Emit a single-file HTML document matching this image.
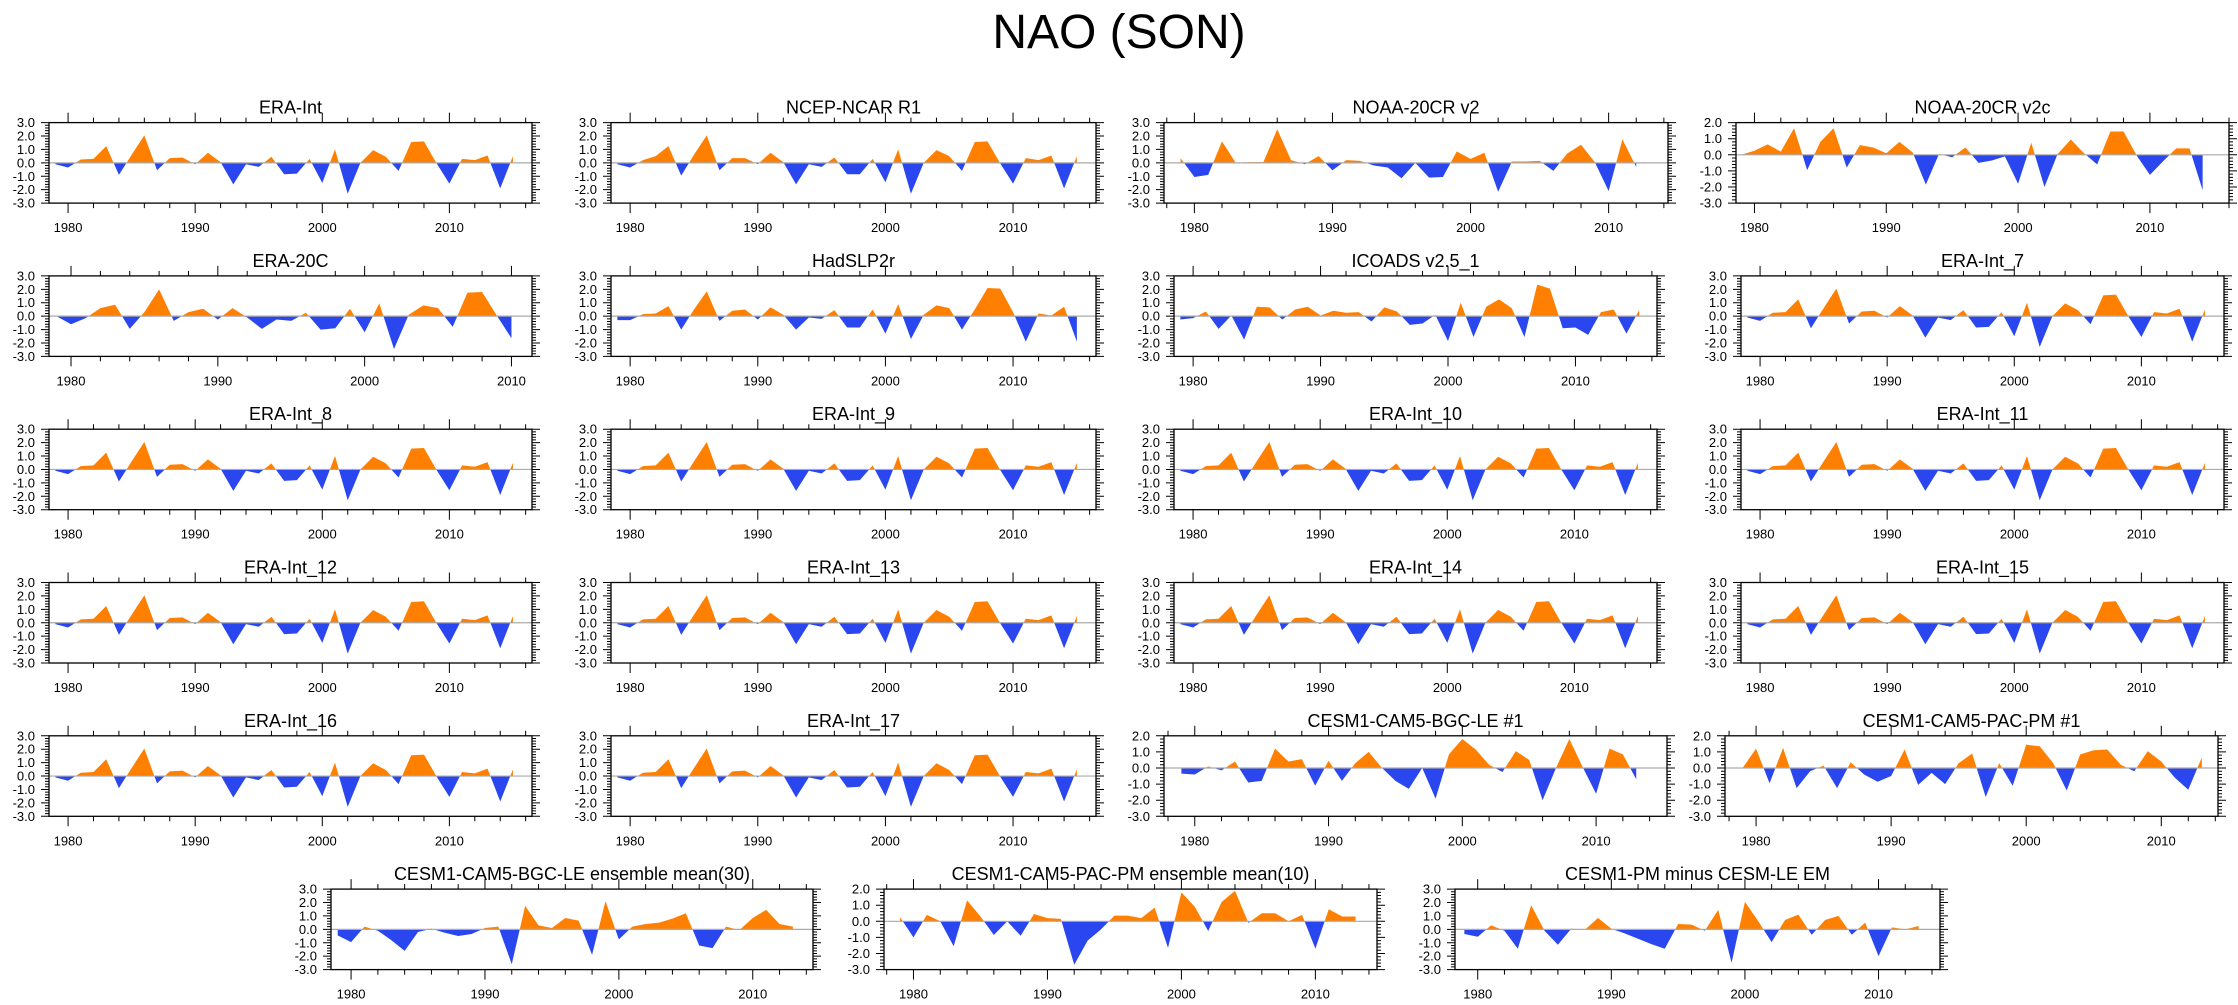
<!DOCTYPE html>
<html><head><meta charset="utf-8"><title>NAO (SON)</title>
<style>
html,body{margin:0;padding:0;background:#fff;}
svg{display:block;font-family:"Liberation Sans",sans-serif;}
</style></head>
<body>
<svg id="chart" xmlns="http://www.w3.org/2000/svg" width="2238" height="1005" viewBox="0 0 2238 1005">
<rect x="0" y="0" width="2238" height="1005" fill="#fff"/>
<text x="1119" y="48" text-anchor="middle" font-size="48" fill="#000">NAO (SON)</text>
</svg>
<script>
// ---- data (values per year, first year given separately) ----
const eraInt = [-0.1,-0.35,0.25,0.3,1.25,-0.9,0.6,2.05,-0.55,0.35,0.4,-0.1,0.75,0.05,-1.6,-0.1,-0.3,0.45,-0.85,-0.8,0.3,-1.5,1.0,-2.3,0.0,0.95,0.45,-0.6,1.55,1.6,-0.05,-1.55,0.3,0.2,0.55,-1.9,0.5];
const ncep = [-0.1,-0.35,0.2,0.5,1.25,-0.95,0.6,2.05,-0.55,0.35,0.35,-0.1,0.75,0.05,-1.6,-0.1,-0.3,0.4,-0.85,-0.85,0.3,-1.45,1.0,-2.3,0.0,0.95,0.5,-0.6,1.55,1.6,-0.05,-1.55,0.35,0.2,0.55,-1.9,0.5];
const noaaV2 = [0.35,-1.05,-0.9,1.6,0.0,0.05,0.05,2.5,0.2,-0.1,0.5,-0.55,0.2,0.15,-0.2,-0.35,-1.15,0.0,-1.1,-1.05,0.85,0.3,0.75,-2.15,0.1,0.1,0.15,-0.6,0.7,1.35,0.05,-2.1,1.75,-0.3];
const noaaV2c = [0.0,0.25,0.65,0.2,1.65,-0.95,0.8,1.65,-0.8,0.6,0.45,0.1,0.8,0.15,-1.85,0.05,-0.15,0.45,-0.5,-0.35,-0.1,-1.8,0.75,-2.0,0.05,0.95,0.1,-0.6,1.45,1.45,-0.05,-1.25,-0.4,0.4,0.4,-2.2];
const era20c = [0.0,-0.6,-0.15,0.6,0.85,-0.95,0.3,2.0,-0.35,0.3,0.55,-0.25,0.6,-0.1,-0.95,-0.25,-0.35,0.25,-1.0,-0.9,0.55,-1.2,0.95,-2.45,0.1,0.8,0.6,-0.8,1.75,1.8,0.05,-1.65];
const hadslp2r = [-0.3,-0.3,0.15,0.2,0.75,-1.0,0.5,1.85,-0.35,0.4,0.5,-0.25,0.65,0.1,-1.0,-0.1,-0.2,0.45,-0.85,-0.85,0.5,-1.3,0.9,-1.7,0.1,0.8,0.6,-1.0,0.5,2.1,2.05,0.3,-1.9,0.2,0.05,0.7,-1.9];
const icoads = [-0.25,-0.15,0.35,-0.95,0.05,-1.75,0.7,0.65,-0.25,0.5,0.7,0.05,0.4,0.25,0.3,-0.4,0.65,0.35,-0.65,-0.55,0.1,-1.85,1.0,-1.55,0.7,1.25,0.6,-1.55,2.35,2.05,-0.9,-0.85,-1.4,0.3,0.5,-1.3,0.45];
const bgcLe1 = [-0.35,-0.4,0.1,-0.15,0.4,-0.9,-0.8,1.2,0.4,0.55,-1.1,0.45,-0.8,0.3,1.0,0.0,-0.8,-1.3,0.0,-1.9,0.85,1.8,1.15,0.2,-0.25,1.05,0.5,-2.0,0.0,1.8,0.05,-1.6,1.2,0.85,-0.7];
const pacPm1 = [0.0,1.2,-0.95,1.25,-1.25,-0.2,0.15,-1.25,0.35,-0.4,-0.85,-0.5,1.15,-1.05,-0.3,-1.0,0.3,0.9,-1.8,0.3,-1.1,1.45,1.35,0.3,-1.4,0.85,1.1,1.15,0.2,-0.2,1.05,0.4,-0.6,-1.35,0.65];
const leEnsMean30 = [-0.45,-0.95,0.2,-0.1,-0.8,-1.6,-0.2,0.05,-0.25,-0.5,-0.35,0.1,0.2,-2.6,1.75,0.3,0.1,0.85,0.65,-1.9,2.1,-0.75,0.2,0.4,0.5,0.8,1.2,-1.2,-1.4,0.2,-0.05,0.85,1.45,0.4,0.2];
const pmEnsMean10 = [0.25,-1.0,0.4,0.0,-1.55,1.3,0.3,-0.85,0.0,-0.9,0.45,0.2,0.15,-2.7,-1.2,-0.5,0.35,0.35,0.2,0.85,-1.65,1.8,0.9,-0.6,1.2,1.9,-0.1,0.5,0.5,0.0,0.4,-1.7,0.75,0.3,0.3];
const pmMinusLe = [-0.35,-0.55,0.3,-0.1,-1.45,1.8,-0.1,-1.15,0.05,-0.05,0.85,0.05,-0.3,-0.7,-1.1,-1.45,0.4,0.35,-0.1,1.45,-2.5,2.05,0.6,-0.95,0.7,1.1,-0.4,0.7,1.0,-0.4,0.5,-2.0,0.15,0.0,0.25];
const startYear = 1979;
const yTickLabels3 = ["3.0","2.0","1.0","0.0","-1.0","-2.0","-3.0"];
const yTickLabels2 = ["2.0","1.0","0.0","-1.0","-2.0","-3.0"];
const xTickYears = [1980,1990,2000,2010];

// ---- layout (not data) ----
const ROW0 = 122.6, PITCH = 153.3, BOXH = 80.5;
const panels = [
 {t:"ERA-Int",d:eraInt,r:0,l:49,w:483,x0:1978.5,x1:2016.5,ym:3},
 {t:"NCEP-NCAR R1",d:ncep,r:0,l:611,w:485,x0:1978.5,x1:2016.5,ym:3},
 {t:"NOAA-20CR v2",d:noaaV2,r:0,l:1164,w:504,x0:1977.8,x1:2014.3,ym:3},
 {t:"NOAA-20CR v2c",d:noaaV2c,r:0,l:1736,w:493,x0:1978.6,x1:2016.0,ym:2},
 {t:"ERA-20C",d:era20c,r:1,l:49,w:483,x0:1978.5,x1:2011.4,ym:3},
 {t:"HadSLP2r",d:hadslp2r,r:1,l:611,w:485,x0:1978.5,x1:2016.5,ym:3},
 {t:"ICOADS v2.5_1",d:icoads,r:1,l:1174,w:483,x0:1978.5,x1:2016.4,ym:3},
 {t:"ERA-Int_7",d:eraInt,r:1,l:1741,w:483,x0:1978.5,x1:2016.5,ym:3},
 {t:"ERA-Int_8",d:eraInt,r:2,l:49,w:483,x0:1978.5,x1:2016.5,ym:3},
 {t:"ERA-Int_9",d:eraInt,r:2,l:611,w:485,x0:1978.5,x1:2016.5,ym:3},
 {t:"ERA-Int_10",d:eraInt,r:2,l:1174,w:483,x0:1978.5,x1:2016.5,ym:3},
 {t:"ERA-Int_11",d:eraInt,r:2,l:1741,w:483,x0:1978.5,x1:2016.5,ym:3},
 {t:"ERA-Int_12",d:eraInt,r:3,l:49,w:483,x0:1978.5,x1:2016.5,ym:3},
 {t:"ERA-Int_13",d:eraInt,r:3,l:611,w:485,x0:1978.5,x1:2016.5,ym:3},
 {t:"ERA-Int_14",d:eraInt,r:3,l:1174,w:483,x0:1978.5,x1:2016.5,ym:3},
 {t:"ERA-Int_15",d:eraInt,r:3,l:1741,w:483,x0:1978.5,x1:2016.5,ym:3},
 {t:"ERA-Int_16",d:eraInt,r:4,l:49,w:483,x0:1978.5,x1:2016.5,ym:3},
 {t:"ERA-Int_17",d:eraInt,r:4,l:611,w:485,x0:1978.5,x1:2016.5,ym:3},
 {t:"CESM1-CAM5-BGC-LE #1",d:bgcLe1,r:4,l:1164,w:503,x0:1977.7,x1:2015.3,ym:2},
 {t:"CESM1-CAM5-PAC-PM #1",d:pacPm1,r:4,l:1725,w:493,x0:1977.7,x1:2014.2,ym:2},
 {t:"CESM1-CAM5-BGC-LE ensemble mean(30)",d:leEnsMean30,r:5,l:331,w:482,x0:1978.5,x1:2014.5,ym:3},
 {t:"CESM1-CAM5-PAC-PM ensemble mean(10)",d:pmEnsMean10,r:5,l:884,w:493,x0:1977.8,x1:2014.6,ym:2},
 {t:"CESM1-PM minus CESM-LE EM",d:pmMinusLe,r:5,l:1455,w:485,x0:1978.3,x1:2014.6,ym:3}
];

const NS = "http://www.w3.org/2000/svg";
const svg = document.getElementById("chart");
function mk(tag, attrs, parent){
  const e = document.createElementNS(NS, tag);
  for (const k in attrs) e.setAttribute(k, attrs[k]);
  (parent||svg).appendChild(e);
  return e;
}
function slug(s){return s.toLowerCase().replace(/[^a-z0-9]+/g,"-").replace(/^-|-$/g,"");}

panels.forEach(function(p){
  const top = ROW0 + PITCH*p.r, bot = top + BOXH;
  const ymin = -3, ymax = p.ym;
  const xs = function(yr){return p.l + (yr - p.x0)/(p.x1 - p.x0)*p.w;};
  const ys = function(v){return top + (ymax - v)/(ymax - ymin)*BOXH;};
  const g = mk("g", {});
  
  

  // fills
  const pts = [];
  for (let i=0;i<p.d.length;i++){
    const yr = startYear + i, v = p.d[i];
    if (i>0){
      const pv = p.d[i-1];
      if ((pv>0 && v<0) || (pv<0 && v>0)){
        const f = pv/(pv - v);
        pts.push([yr-1+f, 0]);
      }
    }
    pts.push([yr, v]);
  }
  const first = pts[0][0], last = pts[pts.length-1][0];
  let up = "M"+xs(first)+","+ys(0), dn = up;
  pts.forEach(function(q){
    up += " L"+xs(q[0]).toFixed(2)+","+ys(Math.max(q[1],0)).toFixed(2);
    dn += " L"+xs(q[0]).toFixed(2)+","+ys(Math.min(q[1],0)).toFixed(2);
  });
  up += " L"+xs(last)+","+ys(0)+" Z";
  dn += " L"+xs(last)+","+ys(0)+" Z";
  const pu = mk("path", {d:up, fill:"#ff8000", stroke:"none"}, g);
  
  
  const pd = mk("path", {d:dn, fill:"#2a46ee", stroke:"none"}, g);
  
  

  // zero line
  const zl = mk("line", {x1:p.l, x2:p.l+p.w, y1:ys(0), y2:ys(0), stroke:"#aaaaaa", "stroke-width":1.2}, g);
  
  

  // box
  const bx = mk("rect", {x:p.l, y:top, width:p.w, height:BOXH, fill:"none", stroke:"#000", "stroke-width":1.3}, g);
  
  

  // y ticks
  let tk = "";
  for (let k=0;k<=(ymax-ymin)*5;k++){
    const v = ymin + k*0.2, y = ys(v).toFixed(2);
    const major = (k%5===0);
    const L = major ? 8 : 4;
    tk += "M"+p.l+","+y+" h-"+L+" M"+(p.l+p.w)+","+y+" h"+L+" ";
  }
  // x ticks
  for (let yr=Math.ceil(p.x0); yr<=p.x1; yr++){
    if (yr%2!==0) continue;
    const x = xs(yr).toFixed(2), major = (yr%10===0), L = major ? 10 : 5;
    tk += "M"+x+","+top+" v-"+L+" M"+x+","+bot+" v"+L+" ";
  }
  const tp = mk("path", {d:tk, stroke:"#000", "stroke-width":1, fill:"none"}, g);
  
  

  // y labels
  const labs = (ymax===3) ? yTickLabels3 : yTickLabels2;
  labs.forEach(function(s){
    const t = mk("text", {x:p.l-14, y:ys(parseFloat(s))+4.5, "text-anchor":"end", "font-size":13, fill:"#000"}, g);
    t.textContent = s;
    
    
  });
  // x labels
  xTickYears.forEach(function(yr){
    if (yr < p.x0 || yr > p.x1) return;
    const t = mk("text", {x:xs(yr), y:bot+29, "text-anchor":"middle", "font-size":13, fill:"#000"}, g);
    t.textContent = String(yr);
    
    
  });
  // title
  const tt = mk("text", {x:p.l+p.w/2, y:top-9, "text-anchor":"middle", "font-size":18, fill:"#000"}, g);
  tt.textContent = p.t;
  
  
});
</script>
</body></html>
